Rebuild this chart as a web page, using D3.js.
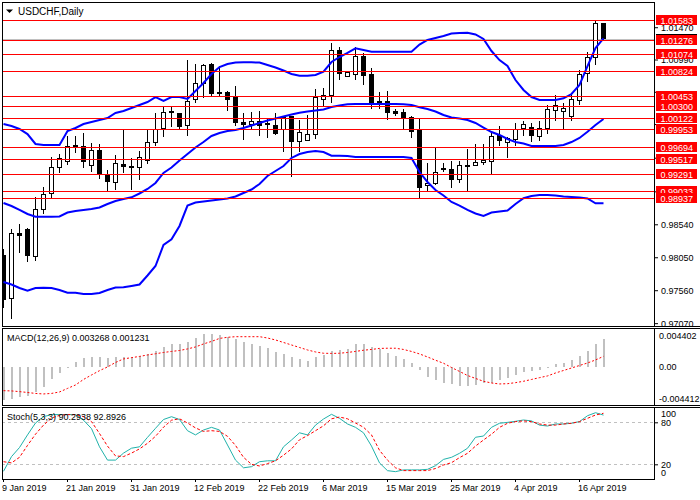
<!DOCTYPE html>
<html>
<head>
<meta charset="utf-8">
<title>USDCHF,Daily</title>
<script src="https://cdn.jsdelivr.net/npm/d3@7"></script>
<style>
  html, body { margin: 0; padding: 0; background: #fff; overflow: hidden; }
  svg { display: block; font-family: "Liberation Sans", Arial, sans-serif; }
</style>
</head>
<body>
<div id="chart"></div>
<script>
'use strict';

// ─── Data ──────────────────────────────────────────────────────────────────

const open  = [0.9807,0.9743,0.9841,0.9847,0.9806,0.9876,0.9900,0.9939,0.9948,0.9971,
               0.9969,0.9941,0.9963,0.9928,0.9916,0.9943,0.9940,0.9938,0.9949,0.9975,
               0.9997,1.0020,1.0018,1.0001,1.0040,1.0064,1.0091,1.0050,1.0050,1.0043,
               1.0006,1.0002,1.0007,1.0004,1.0001,0.9995,1.0014,0.9977,0.9978,0.9988,
               1.0040,1.0046,1.0113,1.0074,1.0076,1.0104,1.0076,1.0037,1.0037,1.0022,
               1.0020,1.0013,0.9993,0.9911,0.9915,0.9937,0.9936,0.9921,0.9941,0.9941,
               0.9946,0.9947,0.9986,0.9976,0.9980,0.9996,0.9998,0.9985,0.9996,1.0023,
               1.0021,1.0015,1.0038,1.0078,1.0102,1.0152];
const high  = [0.9818,0.9847,0.9854,0.9848,0.9894,0.9909,0.9954,0.9958,0.9985,0.9985,
               0.9989,0.9975,0.9973,0.9934,0.9957,0.9994,0.9952,0.9963,0.9994,1.0019,
               1.0028,1.0028,1.0018,1.0098,1.0092,1.0093,1.0094,1.0090,1.0052,1.0060,
               1.0020,1.0021,1.0023,1.0010,1.0019,1.0014,1.0014,1.0009,1.0016,1.0055,
               1.0056,1.0123,1.0117,1.0081,1.0118,1.0109,1.0086,1.0050,1.0052,1.0026,
               1.0026,1.0015,1.0010,0.9945,0.9969,0.9945,0.9948,0.9948,0.9966,0.9973,
               0.9973,0.9993,1.0000,0.9984,1.0004,1.0008,1.0004,1.0008,1.0032,1.0046,
               1.0034,1.0049,1.0083,1.0110,1.0158,1.0154];
const low   = [0.9730,0.9713,0.9812,0.9798,0.9800,0.9869,0.9893,0.9931,0.9942,0.9960,
               0.9938,0.9932,0.9921,0.9904,0.9905,0.9931,0.9905,0.9920,0.9944,0.9970,
               0.9984,0.9999,0.9995,0.9986,1.0035,1.0042,1.0044,1.0044,1.0023,1.0000,
               0.9980,0.9994,0.9986,0.9982,0.9987,0.9961,0.9925,0.9962,0.9978,0.9981,
               1.0030,1.0035,1.0069,1.0073,1.0069,1.0061,1.0025,1.0026,1.0009,1.0015,
               0.9995,0.9983,0.9893,0.9902,0.9912,0.9932,0.9908,0.9916,0.9904,0.9940,
               0.9942,0.9928,0.9970,0.9952,0.9970,0.9986,0.9977,0.9978,0.9988,1.0008,
               0.9996,1.0008,1.0031,1.0066,1.0091,1.0128];
const close = [0.9742,0.9841,0.9837,0.9807,0.9876,0.9899,0.9939,0.9952,0.9969,0.9969,
               0.9947,0.9963,0.9929,0.9917,0.9945,0.9940,0.9938,0.9954,0.9976,0.9995,
               1.0020,1.0021,1.0000,1.0037,1.0064,1.0090,1.0048,1.0048,1.0040,1.0005,
               1.0002,1.0007,1.0001,1.0003,0.9989,1.0013,0.9977,0.9990,0.9988,1.0043,
               1.0046,1.0113,1.0078,1.0080,1.0104,1.0075,1.0035,1.0035,1.0020,1.0018,
               1.0011,0.9992,0.9908,0.9915,0.9931,0.9935,0.9921,0.9941,0.9940,0.9946,
               0.9949,0.9985,0.9978,0.9981,0.9995,1.0002,0.9986,0.9997,1.0025,1.0030,
               1.0026,1.0039,1.0077,1.0102,1.0153,1.0130];

// Bollinger Bands (20,2)
const bbUpper  = [1.00031,1.00001,0.99957,0.99882,0.99734,0.99719,0.99719,0.99719,0.99927,0.99972,
                  1.00031,1.00061,1.00091,1.00120,1.00195,1.00224,1.00269,1.00314,1.00358,1.00432,
                  1.00373,1.00432,1.00432,1.00403,1.00522,1.00641,1.00774,1.00878,1.00923,1.00945,
                  1.00948,1.00948,1.00945,1.00908,1.00871,1.00826,1.00774,1.00749,1.00749,1.00760,
                  1.00809,1.00953,1.01027,1.01087,1.01156,1.01131,1.01106,1.01106,1.01106,1.01106,
                  1.01106,1.01106,1.01213,1.01280,1.01310,1.01339,1.01376,1.01384,1.01388,1.01362,
                  1.01295,1.01116,1.00982,1.00893,1.00685,1.00537,1.00432,1.00388,1.00388,1.00388,
                  1.00413,1.00477,1.00611,1.00893,1.01161,1.01305];
const bbMiddle = [0.98857,0.98812,0.98753,0.98693,0.98653,0.98653,0.98653,0.98656,0.98715,0.98738,
                  0.98753,0.98767,0.98790,0.98842,0.98886,0.98916,0.98941,0.98998,0.99065,0.99154,
                  0.99303,0.99384,0.99488,0.99585,0.99682,0.99763,0.99853,0.99897,0.99927,0.99942,
                  0.99972,1.00009,1.00046,1.00083,1.00113,1.00143,1.00172,1.00199,1.00217,1.00232,
                  1.00247,1.00284,1.00306,1.00324,1.00328,1.00328,1.00328,1.00328,1.00328,1.00328,
                  1.00324,1.00314,1.00279,1.00254,1.00217,1.00165,1.00128,1.00113,1.00091,1.00046,
                  0.99979,0.99912,0.99868,0.99808,0.99763,0.99741,0.99704,0.99704,0.99704,0.99704,
                  0.99719,0.99763,0.99823,0.99917,1.00016,1.00105];
const bbLower  = [0.97682,0.97645,0.97593,0.97553,0.97593,0.97597,0.97593,0.97563,0.97523,0.97523,
                  0.97504,0.97504,0.97519,0.97563,0.97600,0.97603,0.97623,0.97645,0.97779,0.97920,
                  0.98232,0.98317,0.98515,0.98819,0.98864,0.98879,0.98894,0.98909,0.98924,0.98953,
                  0.99005,0.99057,0.99139,0.99258,0.99332,0.99407,0.99526,0.99585,0.99615,0.99630,
                  0.99615,0.99560,0.99560,0.99555,0.99540,0.99540,0.99540,0.99540,0.99540,0.99540,
                  0.99540,0.99526,0.99317,0.99169,0.99050,0.98968,0.98872,0.98819,0.98753,0.98701,
                  0.98663,0.98715,0.98730,0.98745,0.98842,0.98927,0.98961,0.98976,0.98976,0.98968,
                  0.98953,0.98946,0.98938,0.98924,0.98852,0.98852];

// MACD(12,26,9): main (histogram) and signal
const macdMain   = [-0.00383,-0.00371,-0.00351,-0.00336,-0.00286,-0.00228,-0.00139,-0.00073,-0.00015,0.00061,
                    0.00101,0.00112,0.00112,0.00101,0.00112,0.00112,0.00112,0.00128,0.00151,0.00189,
                    0.00235,0.00263,0.00267,0.00286,0.00333,0.00383,0.00383,0.00371,0.00344,0.00325,
                    0.00293,0.00263,0.00247,0.00217,0.00170,0.00147,0.00112,0.00089,0.00073,0.00119,
                    0.00139,0.00186,0.00197,0.00205,0.00263,0.00267,0.00228,0.00205,0.00159,0.00128,
                    0.00089,0.00043,-0.00035,-0.00112,-0.00151,-0.00182,-0.00201,-0.00217,-0.00217,-0.00209,
                    -0.00189,-0.00182,-0.00151,-0.00131,-0.00093,-0.00061,-0.00043,-0.00035,-0.00008,0.00031,
                    0.00050,0.00081,0.00128,0.00186,0.00267,0.003268];
const macdSignal = [-0.00275,-0.00278,-0.00286,-0.00296,-0.00307,-0.00313,-0.00307,-0.00290,-0.00249,-0.00209,
                    -0.00145,-0.00093,-0.00043,0.00000,0.00052,0.00093,0.00108,0.00122,0.00139,0.00153,
                    0.00168,0.00180,0.00191,0.00209,0.00232,0.00267,0.00296,0.00331,0.00344,0.00351,
                    0.00351,0.00351,0.00351,0.00336,0.00313,0.00284,0.00255,0.00226,0.00197,0.00174,
                    0.00159,0.00157,0.00159,0.00168,0.00180,0.00194,0.00203,0.00215,0.00217,0.00217,
                    0.00203,0.00180,0.00151,0.00116,0.00078,0.00043,-0.00006,-0.00052,-0.00099,-0.00133,
                    -0.00166,-0.00186,-0.00197,-0.00194,-0.00182,-0.00166,-0.00145,-0.00124,-0.00104,-0.00070,
                    -0.00041,-0.00012,0.00017,0.00046,0.00081,0.001231];

// Stochastic(5,3,3): %K and %D
const stochMain   = [10,31,44,62,79,88,91,91,91,91,
                     83,71,45,26,26,36,43,45,58.5,71.4,
                     84,88,84,68,62,69,72.8,69,47.6,26,
                     15,16.6,23.7,25,25,45,54.7,65,62,76,
                     84.7,91.4,85.7,77.6,72.8,65,46,22,10.9,9.5,
                     12,12,12,12.8,18,27,30,35.7,42.9,58.6,
                     60.4,72.8,78.6,79.9,81.4,83.3,82,76,74.7,77.6,
                     77.6,78.6,81,89.4,93.7,90.2938];
const stochSignal = [23.7,22,30,47,63,76,86,90,91,91,
                     88,81,64,46,32,31,36,42,50,60,
                     73,83,85,79,72,67,68,67,60,47,
                     30,20,17.6,21,25,33,42,55,61,68,
                     75,85,87.5,85,79,73,62,40,26,15,
                     11,11,11,11,14,19,22.3,29.5,35.7,46,
                     54.7,62.9,72.8,78.6,81,82,81,77.6,76,76,
                     77.6,78.6,81,85.7,90.4,92.8926];

// Horizontal levels drawn on the chart (red lines)
const levels   = [1.01583,1.01276,1.01074,1.00824,1.00453,1.00300,1.00122,
                  0.99953,0.99694,0.99517,0.99291,0.99033,0.98937];
const bidPrice = 1.01300;

// Axis ticks
const priceTicks   = [1.01470,1.00990,1.00510,1.00030,0.99530,0.99030,0.98540,0.98050,0.97560,0.97070];
const macdTicks    = [0.004402, 0, -0.004412];
const stochTicks   = [100, 80, 20, 0];
const stochLevels  = [80, 20];
const dateTickIdx  = [0, 8, 16, 24, 32, 40, 48, 56, 64, 72];
const dateTickText = ['9 Jan 2019','21 Jan 2019','31 Jan 2019','12 Feb 2019','22 Feb 2019',
                      '6 Mar 2019','15 Mar 2019','25 Mar 2019','4 Apr 2019','16 Apr 2019'];

// ─── Layout ────────────────────────────────────────────────────────────────

const W = 700, H = 500;
const LEFT = 2, RIGHT = 654;
const MAIN  = { top: 2,   bottom: 326 };
const MACDP = { top: 328, bottom: 405 };
const STOCH = { top: 407, bottom: 479 };
const BAR_STEP = 8;
const N = close.length;

const svg = d3.select('#chart').append('svg').attr('width', W).attr('height', H);

// ─── Scales ────────────────────────────────────────────────────────────────

const x = d3.scaleBand().domain(d3.range(N)).range([-0.5, -0.5 + BAR_STEP * N]);
const cx = i => x(i) + x.bandwidth() / 2;

const yMain  = d3.scaleLinear().domain([0.97013, 1.01845]).range([327, 2]);
const yMacd  = d3.scaleLinear().domain([-0.004412, 0.004402]).range([405, 329]);
const yStoch = d3.scaleLinear().domain([0, 100]).range([478.3, 408.3]);

// clip paths for the three panes
const defs = svg.append('defs');
[['clipMain', MAIN], ['clipMacd', MACDP], ['clipStoch', STOCH]].forEach(([id, p]) => {
  defs.append('clipPath').attr('id', id).append('rect')
    .attr('x', LEFT + 1).attr('y', p.top + 1)
    .attr('width', RIGHT - LEFT - 1).attr('height', p.bottom - p.top - 1);
});

// ─── Main pane ─────────────────────────────────────────────────────────────

const gMain = svg.append('g').attr('clip-path', 'url(#clipMain)');

// bid line
gMain.append('line')
  .attr('x1', LEFT).attr('x2', RIGHT)
  .attr('y1', Math.round(yMain(bidPrice)) + 0.5).attr('y2', Math.round(yMain(bidPrice)) + 0.5)
  .attr('stroke', '#c0c0c0').attr('shape-rendering', 'crispEdges');

// candles
const candles = gMain.append('g').attr('shape-rendering', 'crispEdges');
d3.range(N).forEach(i => {
  const xc = Math.floor(cx(i)) + 0.5;
  candles.append('line')
    .attr('x1', xc).attr('x2', xc)
    .attr('y1', yMain(high[i])).attr('y2', yMain(low[i]))
    .attr('stroke', '#000');
  const yTop = yMain(Math.max(open[i], close[i]));
  const yBot = yMain(Math.min(open[i], close[i]));
  const bull = close[i] >= open[i];
  candles.append('rect')
    .attr('x', xc - 2).attr('width', 4)
    .attr('y', yTop).attr('height', Math.max(1, yBot - yTop))
    .attr('fill', bull ? '#fff' : '#000')
    .attr('stroke', '#000');
});

// Bollinger bands
const bandLine = d3.line().x((d, i) => cx(i)).y(d => yMain(d));
[bbUpper, bbMiddle, bbLower].forEach(s => {
  gMain.append('path').datum(s)
    .attr('d', bandLine)
    .attr('fill', 'none').attr('stroke', '#0000ff').attr('stroke-width', 2);
});

// horizontal levels
gMain.append('g').attr('shape-rendering', 'crispEdges')
  .selectAll('line').data(levels).join('line')
  .attr('x1', LEFT).attr('x2', RIGHT)
  .attr('y1', d => Math.round(yMain(d)) + 0.5).attr('y2', d => Math.round(yMain(d)) + 0.5)
  .attr('stroke', '#ff0000');

// title
svg.append('path').attr('d', 'M6,9.5 L13,9.5 L9.5,13 Z').attr('fill', '#000');
svg.append('text').attr('x', 18).attr('y', 14.5)
  .attr('font-size', 10).attr('fill', '#000').text('USDCHF,Daily');

// price axis: a tick label is left out when price boxes sit over it
// (one box right on it, or boxes close on both sides)
const boxYs = levels.concat([bidPrice]).map(v => yMain(v));
const boxCovers = v => {
  const t = yMain(v);
  if (boxYs.some(b => Math.abs(b - t) < 4)) return true;
  const above = boxYs.some(b => b < t && t - b < 7);
  const below = boxYs.some(b => b > t && b - t < 7);
  return above && below;
};
const axMain = svg.append('g').attr('transform', `translate(${RIGHT},0)`)
  .call(d3.axisRight(yMain).tickValues(priceTicks).tickSize(4).tickSizeOuter(0)
    .tickFormat(d => boxCovers(d) ? '' : d.toFixed(5)));
axMain.select('.domain').remove();
axMain.attr('font-family', null);
axMain.selectAll('text').attr('font-size', 9).attr('fill', '#000');

// price boxes: bid (black) and level labels (red), top to bottom
const boxes = [{ v: bidPrice, c: '#000' }]
  .concat(levels.map(v => ({ v, c: '#ff0000' })))
  .sort((a, b) => b.v - a.v);
const gBox = svg.append('g');
boxes.forEach(b => {
  const yy = Math.round(yMain(b.v));
  gBox.append('rect').attr('x', 656).attr('y', yy - 5).attr('width', 41).attr('height', 10)
    .attr('fill', b.c).attr('shape-rendering', 'crispEdges');
  gBox.append('text').attr('x', 660.5).attr('y', yy + 3.6)
    .attr('font-size', 9).attr('fill', '#fff').text(b.v.toFixed(5));
});

// ─── MACD pane ─────────────────────────────────────────────────────────────

const gMacd = svg.append('g').attr('clip-path', 'url(#clipMacd)');
gMacd.append('g').attr('shape-rendering', 'crispEdges')
  .selectAll('rect').data(macdMain).join('rect')
  .attr('x', (d, i) => Math.floor(cx(i)) - 0.5).attr('width', 2)
  .attr('y', d => Math.min(yMacd(0), yMacd(d)))
  .attr('height', d => Math.max(0.5, Math.abs(yMacd(d) - yMacd(0))))
  .attr('fill', '#c0c0c0');

gMacd.append('path').datum(macdSignal)
  .attr('d', d3.line().x((d, i) => cx(i)).y(d => yMacd(d)))
  .attr('fill', 'none').attr('stroke', '#ff0000').attr('stroke-width', 1)
  .attr('stroke-dasharray', '2,2');

svg.append('text').attr('x', 7).attr('y', 340.5).attr('font-size', 9).attr('fill', '#000')
  .text(`MACD(12,26,9) ${macdMain[N - 1].toFixed(6)} ${macdSignal[N - 1].toFixed(6)}`);

const axMacd = svg.append('g').attr('transform', `translate(${RIGHT},0)`)
  .call(d3.axisRight(yMacd).tickValues(macdTicks).tickSize(0).tickSizeOuter(0).tickPadding(5)
    .tickFormat(d => d === 0 ? '0.00' : d.toFixed(6)));
axMacd.select('.domain').remove();
axMacd.attr('font-family', null);
axMacd.selectAll('text').attr('font-size', 9).attr('fill', '#000')
  .attr('y', d => d > 0 ? 7 : d < 0 ? -6 : 0);

// ─── Stochastic pane ───────────────────────────────────────────────────────

const gSto = svg.append('g').attr('clip-path', 'url(#clipStoch)');
gSto.append('g').selectAll('line').data(stochLevels).join('line')
  .attr('x1', LEFT).attr('x2', RIGHT)
  .attr('y1', d => Math.round(yStoch(d)) + 0.5).attr('y2', d => Math.round(yStoch(d)) + 0.5)
  .attr('stroke', '#c0c0c0').attr('stroke-dasharray', '3,3').attr('shape-rendering', 'crispEdges');

svg.append('text').attr('x', 7).attr('y', 420).attr('font-size', 9).attr('fill', '#000')
  .text(`Stoch(5,3,3) ${stochMain[N - 1].toFixed(4)} ${stochSignal[N - 1].toFixed(4)}`);

const stoLine = d3.line().x((d, i) => cx(i)).y(d => yStoch(d));
gSto.append('path').datum(stochMain).attr('d', stoLine)
  .attr('fill', 'none').attr('stroke', '#20b2aa').attr('stroke-width', 1);
gSto.append('path').datum(stochSignal).attr('d', stoLine)
  .attr('fill', 'none').attr('stroke', '#ff0000').attr('stroke-width', 1)
  .attr('stroke-dasharray', '3,2');

const axSto = svg.append('g').attr('transform', `translate(${RIGHT},0)`)
  .call(d3.axisRight(yStoch).tickValues(stochTicks).tickSize(4).tickSizeOuter(0));
axSto.select('.domain').remove();
axSto.attr('font-family', null);
axSto.selectAll('.tick line').attr('opacity', d => (d === 0 || d === 100) ? 0 : 1);
axSto.selectAll('text').attr('font-size', 9).attr('fill', '#000')
  .attr('y', d => d === 100 ? 5 : d === 0 ? -6 : 0);

// ─── Date axis ─────────────────────────────────────────────────────────────

const axDate = svg.append('g').attr('transform', `translate(0,${STOCH.bottom})`)
  .call(d3.axisBottom(x).tickValues(dateTickIdx).tickSize(3).tickSizeOuter(0)
    .tickFormat((d, k) => dateTickText[k]));
axDate.select('.domain').remove();
axDate.attr('font-family', null);
axDate.selectAll('text').attr('font-size', 9).attr('fill', '#000')
  .attr('text-anchor', 'start').attr('x', -1.5);

// ─── Frames ────────────────────────────────────────────────────────────────

const frames = svg.append('g').attr('shape-rendering', 'crispEdges')
  .attr('fill', 'none').attr('stroke', '#000');
[MAIN, MACDP, STOCH].forEach(p => {
  frames.append('rect').attr('x', LEFT + 0.5).attr('y', p.top + 0.5)
    .attr('width', RIGHT - LEFT).attr('height', p.bottom - p.top);
});
// pane separators run across the price scale too
[MAIN.bottom, MACDP.top, MACDP.bottom, STOCH.top].forEach(yy => {
  frames.append('line').attr('x1', RIGHT).attr('x2', W)
    .attr('y1', yy + 0.5).attr('y2', yy + 0.5);
});
</script>
</body>
</html>
